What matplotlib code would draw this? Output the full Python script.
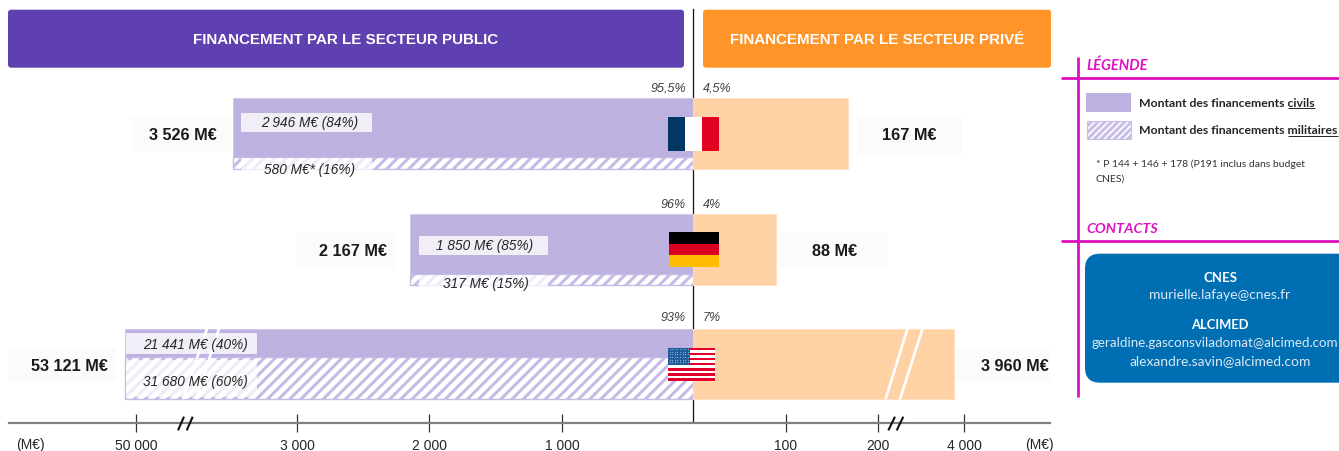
import numpy as np
import matplotlib
matplotlib.use("Agg")
import matplotlib.pyplot as plt
from matplotlib.patches import Rectangle, FancyBboxPatch
from matplotlib.ticker import FixedLocator, FixedFormatter

# ---- data ----
countries = ["France", "Allemagne", "États-Unis"]
civil = [2946, 1850, 21441]
military = [580, 317, 31680]
private = [167, 88, 3960]
civil_pct = [84, 85, 40]
military_pct = [16, 15, 60]
public_share = ["95,5%", "96%", "93%"]
private_share = ["4,5%", "4%", "7%"]
military_marks = ["*", "", ""]
tick_values = [-50000, -3000, -2000, -1000, 100, 200, 4000]
tick_labels = ["50 000", "3 000", "2 000", "1 000", "100", "200", "4 000"]

# ---- broken axis: value -> pixel anchors ----
scale_values = [-84600, -53121, -50000, -3526, -3000, -2167, -2000, -1000, 0, 88, 100, 167, 200, 3960, 4000, 4382]
scale_pixels = [9, 124.6, 136, 233, 297, 410, 429, 562, 693, 775.5, 786, 848, 878, 954, 964, 1050]

W, H = 1339, 452
YOFF = 0.7
plt.rcParams["font.family"] = ["Liberation Sans", "DejaVu Sans"]
plt.rcParams["hatch.linewidth"] = 2.2
LAV = "#BDB1E0"
PEACH = "#FFD2A6"
MAG = "#E010C0"
DARK = "#262626"
fig = plt.figure(figsize=(W / 100, H / 100), dpi=100, facecolor="white")


def fwd(v):
    return np.interp(v, scale_values, scale_pixels)


def inv(p):
    return np.interp(p, scale_pixels, scale_values)


ax = fig.add_axes([9 / W, 0, 1041 / W, 1], zorder=1)
ax.set_xscale("function", functions=(fwd, inv))
ax.set_xlim(-84600, 4382)
ax.set_ylim(H - YOFF, -YOFF)
ax.patch.set_alpha(0)
for s in ["left", "right", "top"]:
    ax.spines[s].set_visible(False)
ax.spines["bottom"].set_position(("data", 423))
ax.spines["bottom"].set_color("#808080")
ax.spines["bottom"].set_linewidth(1.6)
ax.yaxis.set_visible(False)
ax.xaxis.set_major_locator(FixedLocator(tick_values))
ax.xaxis.set_major_formatter(FixedFormatter(tick_labels))
ax.xaxis.set_minor_locator(FixedLocator([]))
ax.tick_params(axis="x", direction="inout", length=12.5, width=0.9, color="#333333",
               labelsize=10, labelcolor=DARK, pad=5)
ax.axvline(0, ymin=(H - 423) / H, ymax=(H - 10) / H, color="#111111", lw=0.9, zorder=1)

row_tops = [98.5, 214.5, 329]
row_height = 70.5
for top, c, m, p in zip(row_tops, civil, military, private):
    total = c + m
    hc = row_height * c / total
    hm = row_height - hc
    ax.barh(top, -total, height=hc, align="edge", color=LAV, edgecolor="#CFC7EA", lw=0.6, zorder=2)
    ax.barh(top + hc, -total, height=hm, align="edge", facecolor="white", edgecolor="#C6BBE5",
            hatch="///", lw=1.0, zorder=2)
    ax.barh(top, p, height=row_height, align="edge", color=PEACH, edgecolor="#FFDFC0", lw=0.6, zorder=2)

# ---- overlay in pixel coordinates ----
ov = fig.add_axes([0, 0, 1, 1], zorder=2)
ov.set_xlim(0, W)
ov.set_ylim(H - YOFF, -YOFF)
ov.axis("off")
ov.patch.set_alpha(0)


def round_box(x0, y0, x1, y1, color, r=3, z=3):
    ov.add_patch(FancyBboxPatch((x0 + r, y0 + r), x1 - x0 - 2 * r, y1 - y0 - 2 * r,
                                boxstyle=f"round,pad={r},rounding_size={r}", fc=color, ec="none", zorder=z))


def rect(x0, y0, x1, y1, color, alpha=1.0, z=3):
    ov.add_patch(Rectangle((x0, y0), x1 - x0, y1 - y0, fc=color, ec="none", alpha=alpha, zorder=z))


def seg(xs, ys, color, lw, z=4):
    ov.plot(xs, ys, color=color, lw=lw, zorder=z, solid_capstyle="butt")


def txt(x, y, s, size, ha="center", color=DARK, weight="normal", style="normal", family=None, z=6, **kw):
    return ov.text(x, y, s, fontsize=size, ha=ha, va="center", color=color, weight=weight, style=style,
                   family=family if family else ["Liberation Sans", "DejaVu Sans"], zorder=z, **kw)


# headers
round_box(8, 10, 684, 68, "#5F40B0")
round_box(703, 10, 1051, 68, "#FF9428")
txt(346, 39.5, "FINANCEMENT PAR LE SECTEUR PUBLIC", 10.9, color="white", weight="bold")
txt(877, 39.5, "FINANCEMENT PAR LE SECTEUR PRIVÉ", 10.9, color="white", weight="bold")


def fmt(v):
    return f"{v:,}".replace(",", " ")


total_pos = [(183, 135), (353, 251), (69, 366)]
total_ghost = [(132, 117, 232, 151), (296, 232, 395, 268), (8, 348, 116, 381)]
private_pos = [(909, 135), (835, 251), (1015, 366)]
private_ghost = [(858, 117, 962, 155), (780, 232, 888, 268), (956, 348, 1050, 381)]
civ_box = [(241, 113, 372, 132.5), (419, 236, 548, 255), (126, 333, 257, 354)]
mil_box = [(241, 158, 372, 177), (419, 275, 548, 292), (126, 360, 257, 397)]
civ_text = [(310, 122.5), (485, 245), (195, 344)]
mil_text = [(310, 169.5), (486, 283.5), (195, 381)]
share_y = [88, 204, 317]

for i in range(3):
    for g in (total_ghost[i], private_ghost[i]):
        rect(g[0], g[1], g[2], g[3], "#FBFBFB", z=0.5)
    txt(*total_pos[i], f"{fmt(civil[i] + military[i])} M€", 11.7, weight="bold", color="#1A1A1A")
    txt(*private_pos[i], f"{fmt(private[i])} M€", 11.7, weight="bold", color="#1A1A1A")
    b = civ_box[i]
    rect(b[0], b[1], b[2], b[3], "#F1EEF8", z=3)
    txt(*civ_text[i], f"{fmt(civil[i])} M€ ({civil_pct[i]}%)", 9.8, style="italic")
    b = mil_box[i]
    rect(b[0], b[1], b[2], b[3], "white", alpha=0.72, z=3)
    txt(*mil_text[i], f"{fmt(military[i])} M€{military_marks[i]} ({military_pct[i]}%)", 9.8, style="italic")
    txt(686, share_y[i], public_share[i], 9, ha="right", style="italic", color="#404040")
    txt(703, share_y[i], private_share[i], 9, ha="left", style="italic", color="#404040")

# bar breaks
for xs in [(207, 183), (219, 196), (907.5, 885.5), (922.5, 900)]:
    seg(xs, (329, 399.5), "white", 1.9, z=3.5)

# axis breaks
for xs in [(178, 184), (186.7, 192.7), (888.3, 895), (896.7, 903.3)]:
    seg(xs, (430.7, 417), "#111111", 1.5)

txt(30, 444, "(M€)", 10)
txt(1039, 444, "(M€)", 10)

# flags
rect(668, 117, 685, 151.5, "#003764", z=5)
rect(685, 117, 702, 151.5, "white", z=5)
rect(702, 117, 719, 151.5, "#E1001F", z=5)
rect(669, 232.5, 719, 244, "#000000", z=5)
rect(669, 244, 719, 255.7, "#DB0020", z=5)
rect(669, 255.7, 719, 267, "#FFBC00", z=5)
fx0, fx1, fy0, fy1 = 668, 715, 348, 381
sh = (fy1 - fy0) / 13
for k in range(13):
    rect(fx0, fy0 + k * sh, fx1, fy0 + (k + 1) * sh, "#E1002A" if k % 2 == 0 else "white", z=5)
rect(fx0, fy0, 690, fy0 + 7 * sh, "#1F5C9A", z=5.1)
sx, sy = np.meshgrid(np.arange(669.5, 690, 2.6), np.arange(349.5, 365, 2.6))
ov.scatter(sx.ravel(), sy.ravel(), s=0.7, c="#8FB0D2", lw=0, zorder=5.2)

# side panel
LB = ["Lato", "DejaVu Sans"]
seg((1078, 1078), (57, 397), MAG, 2.0)
seg((1061, W), (78.3, 78.3), MAG, 2.0)
seg((1061, W), (241.3, 241.3), MAG, 2.0)
txt(1086, 65, "LÉGENDE", 10.5, ha="left", color=MAG, weight="bold", style="italic", family=LB)
txt(1086, 228, "CONTACTS", 10.4, ha="left", color=MAG, weight="bold", style="italic", family=LB)
rect(1086, 93, 1131, 112, LAV)
ov.add_patch(Rectangle((1086.5, 121), 44, 18, facecolor="white", edgecolor="#C9BFE6", lw=0.8, zorder=3, hatch="/////"))
txt(1139, 102.5, "Montant des financements civils", 8.8, ha="left", weight="bold", family=LB)
txt(1139, 130, "Montant des financements militaires", 8.8, ha="left", weight="bold", family=LB)
seg((1288, 1315), (108.3, 108.3), DARK, 0.7)
seg((1288, 1338), (136, 136), DARK, 0.7)
txt(1096, 164, "* P 144 + 146 + 178 (P191 inclus dans budget", 7.5, ha="left", family=LB, color="#333333")
txt(1096, 178, "CNES)", 7.5, ha="left", family=LB, color="#333333")

ov.add_patch(FancyBboxPatch((1100, 269), 280, 99, boxstyle="round,pad=15,rounding_size=15",
                            fc="#006EB3", ec="none", zorder=3))
CT = "#DCE9F5"
txt(1220, 277, "CNES", 9.5, color="white", weight="bold", family=LB)
txt(1220, 294, "murielle.lafaye@cnes.fr", 10, color=CT, family=LB)
txt(1220, 324, "ALCIMED", 9.4, color="white", weight="bold", family=LB)
txt(1215, 342, "geraldine.gasconsviladomat@alcimed.com", 9.6, color=CT, family=LB)
txt(1220, 360, "alexandre.savin@alcimed.com", 10, color=CT, family=LB)

fig.savefig("out.png", dpi=100)
